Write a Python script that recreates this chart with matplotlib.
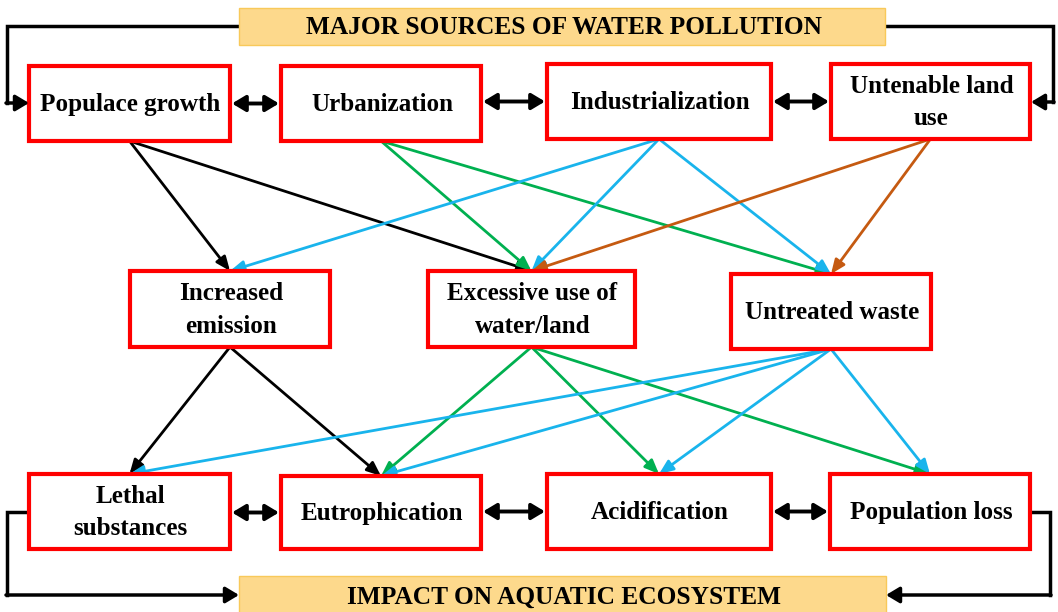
import matplotlib
matplotlib.use("Agg")
import matplotlib.pyplot as plt
from matplotlib.patches import Rectangle

# ---- content ----
header_top = "MAJOR SOURCES OF WATER POLLUTION"
header_bottom = "IMPACT ON AQUATIC ECOSYSTEM"
sources = ["Populace growth", "Urbanization", "Industrialization", "Untenable land\nuse"]
middle = ["Increased\nemission", "Excessive use of\nwater/land", "Untreated waste"]
impacts = ["Lethal\nsubstances", "Eutrophication", "Acidification", "Population loss"]

# edges: (from, to, colour-key)
edges = [
    ("Populace growth", "Increased\nemission", "k"),
    ("Populace growth", "Excessive use of\nwater/land", "k"),
    ("Urbanization", "Excessive use of\nwater/land", "g"),
    ("Urbanization", "Untreated waste", "g"),
    ("Industrialization", "Increased\nemission", "b"),
    ("Industrialization", "Excessive use of\nwater/land", "b"),
    ("Industrialization", "Untreated waste", "b"),
    ("Untenable land\nuse", "Excessive use of\nwater/land", "o"),
    ("Untenable land\nuse", "Untreated waste", "o"),
    ("Increased\nemission", "Lethal\nsubstances", "k"),
    ("Increased\nemission", "Eutrophication", "k"),
    ("Excessive use of\nwater/land", "Eutrophication", "g"),
    ("Excessive use of\nwater/land", "Acidification", "g"),
    ("Excessive use of\nwater/land", "Population loss", "g"),
    ("Untreated waste", "Lethal\nsubstances", "b"),
    ("Untreated waste", "Eutrophication", "b"),
    ("Untreated waste", "Acidification", "b"),
    ("Untreated waste", "Population loss", "b"),
]

# ---- layout (pixel space) ----
boxes = {
    "Populace growth": (29, 66, 230, 141),
    "Urbanization": (281, 66, 481, 141),
    "Industrialization": (547, 64, 771, 139),
    "Untenable land\nuse": (831, 64, 1030, 139),
    "Increased\nemission": (130, 271, 330, 347),
    "Excessive use of\nwater/land": (428, 271, 635, 347),
    "Untreated waste": (731, 274, 931, 349),
    "Lethal\nsubstances": (29, 474, 230, 549),
    "Eutrophication": (281, 476, 481, 549),
    "Acidification": (547, 474, 771, 549),
    "Population loss": (830, 474, 1030, 549),
}
colors = {"k": "black", "g": "#00B050", "b": "#19B4EC", "o": "#C55A11"}
FONT = "Liberation Serif"

W, H = 1058, 612
fig = plt.figure(figsize=(W / 100, H / 100), dpi=100)
ax = fig.add_axes([0, 0, 1, 1])
ax.set_xlim(0, W)
ax.set_ylim(H, 0)
ax.axis("off")


def center(name):
    x0, y0, x1, y1 = boxes[name]
    return (x0 + x1) / 2, (y0 + y1) / 2


# diagonal connections
for a, b, c in edges:
    ax0, ay0, ax1, ay1 = boxes[a]
    bx0, by0, bx1, by1 = boxes[b]
    start = ((ax0 + ax1) / 2, ay1)
    end = ((bx0 + bx1) / 2, by0)
    ax.annotate("", xy=end, xytext=start,
                arrowprops=dict(arrowstyle="-|>,head_length=0.6,head_width=0.25",
                                color=colors[c], lw=2.0,
                                mutation_scale=14, shrinkA=0, shrinkB=0),
                zorder=2)

# boxes
for name, (x0, y0, x1, y1) in boxes.items():
    ax.add_patch(Rectangle((x0, y0), x1 - x0, y1 - y0, facecolor="white",
                           edgecolor="#FF0000", lw=3, zorder=3))
    cx, cy = center(name)
    ax.text(cx + 1, cy + 1, name, ha="center", va="center", family=FONT,
            fontweight="bold", fontsize=18.1, linespacing=1.55, zorder=4)

# double arrows between neighbours
def dbl(x0, x1, y):
    ax.annotate("", xy=(x1, y), xytext=(x0, y),
                arrowprops=dict(arrowstyle="<|-|>,head_length=0.5,head_width=0.3",
                                color="black", lw=2.8,
                                mutation_scale=16, shrinkA=0, shrinkB=0),
                zorder=5)

rows = [sources, impacts]
for row in rows:
    for i in range(len(row) - 1):
        a, b = boxes[row[i]], boxes[row[i + 1]]
        y = (b[1] + b[3]) / 2
        dbl(a[2] + 2, b[0] - 2, y)

# headers
ax.add_patch(Rectangle((239, 8), 646, 37, facecolor="#FDD98C",
                       edgecolor="#F8C95A", lw=1, zorder=3))
ax.text(564, 28, header_top, ha="center", va="center", family=FONT,
        fontweight="bold", fontsize=18.3, zorder=4)
ax.add_patch(Rectangle((239, 576), 647, 40, facecolor="#FDD98C",
                       edgecolor="#F8C95A", lw=1, zorder=3))
ax.text(564, 597, header_bottom, ha="center", va="center", family=FONT,
        fontweight="bold", fontsize=18.3, zorder=4)

# loop connectors
lk = dict(color="black", lw=2.5, solid_joinstyle="miter", zorder=2)
head = dict(arrowstyle="-|>,head_length=0.5,head_width=0.3", color="black", lw=2.5,
            mutation_scale=16, shrinkA=0, shrinkB=0)
ax.plot([239, 7, 7], [26, 26, 103], **lk)
ax.annotate("", xy=(29, 103), xytext=(6, 103), arrowprops=head)
ax.plot([885, 1053, 1053], [26, 26, 102], **lk)
ax.annotate("", xy=(1031, 102), xytext=(1054, 102), arrowprops=head)
ax.plot([29, 7, 7], [512, 512, 595], **lk)
ax.annotate("", xy=(239, 595), xytext=(6, 595), arrowprops=head)
ax.plot([1030, 1050, 1050], [512, 512, 595], **lk)
ax.annotate("", xy=(886, 595), xytext=(1051, 595), arrowprops=head)

fig.savefig("out.png", dpi=100)
